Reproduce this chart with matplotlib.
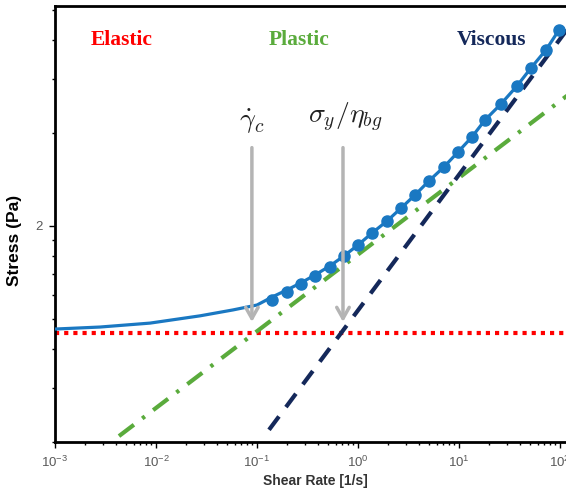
import numpy as np
import matplotlib
matplotlib.use("Agg")
import matplotlib.pyplot as plt
from matplotlib.ticker import FixedLocator, FixedFormatter, LogLocator, NullFormatter, FuncFormatter

# datos leidos de la figura
# curva ajustada (linea azul)
fit_x = [0.001, 0.00279, 0.00873, 0.0273, 0.0578, 0.1, 0.141, 0.198, 0.273, 0.375,
         0.528, 0.726, 1.0, 1.377, 1.94, 2.67, 3.67, 5.04, 7.10, 9.77,
         13.4, 18.1, 26.0, 37.5, 51.6, 72.7, 97.7]
fit_y = [46.4, 47.1, 48.5, 51.2, 53.5, 55.5, 58.9, 62.1, 65.5, 69.4,
         74.3, 80.0, 86.8, 94.9, 103.8, 114.3, 126.0, 139.9, 155.3, 173.5,
         194.0, 220.3, 248.1, 283.9, 324.6, 371.5, 430.8]

# puntos medidos
med_x = [0.141, 0.198, 0.273, 0.375, 0.528, 0.726, 1.0, 1.377, 1.94, 2.67, 3.67,
         5.04, 7.10, 9.77, 13.4, 18.1, 26.0, 37.5, 51.6, 72.7, 97.7]
med_y = [57.7, 61.1, 64.9, 68.9, 73.6, 80.0, 86.8, 94.9, 103.8, 114.3, 126.0,
         139.9, 155.3, 173.5, 194.0, 220.3, 248.1, 283.9, 324.6, 371.5, 430.8]

# asintotas
elastico_x = [0.001, 150]
elastico_y = [45.1, 45.1]
plastico_x = [0.0043, 150]
plastico_y = [20.9, 280.5]
viscoso_x = [0.1315, 150]
viscoso_y = [21.9, 481]

# flechas
flecha_x = [0.089, 0.71]
flecha_y0 = 183
flecha_y1 = 47.9
flecha_txt = [r"$\dot{\gamma}_c$", r"$\sigma_y/\eta_{bg}$"]

regiones = ["Elastic", "Plastic", "Viscous"]
regiones_x = [0.0046, 0.26, 21]
regiones_col = ["#ff0000", "#5aab3c", "#14285a"]

plt.rcParams["font.family"] = ["Liberation Sans", "DejaVu Sans"]

fig = plt.figure(figsize=(5.66, 4.92), dpi=100)
ax = fig.add_axes([55/566, 50/492, 520/566, 436/492])
ax.set_xscale("log")
ax.set_yscale("log")
ax.set_xlim(1e-3, 140.7)
ax.set_ylim(20, 515)

ax.plot(elastico_x, elastico_y, color="#ff0000", lw=3, linestyle=(0, (1, 1.2)), zorder=2)
ax.plot(plastico_x, plastico_y, color="#5aab3c", lw=3, linestyle=(0, (4.5, 2.5, 0.8, 2.5)), zorder=2)
ax.plot(viscoso_x, viscoso_y, color="#14285a", lw=3, linestyle=(0, (4, 2.8)), zorder=2)
ax.plot(fit_x, fit_y, color="#1a78c2", lw=2.3, zorder=3)
ax.plot(med_x, med_y, "o", color="#1a78c2", ms=8, zorder=4)

for i in range(len(flecha_x)):
    ax.annotate("", xy=(flecha_x[i], flecha_y1), xytext=(flecha_x[i], flecha_y0),
                arrowprops=dict(arrowstyle="->,head_length=0.8,head_width=0.45",
                                color="#b4b4b4", lw=2.5), zorder=5)
ax.text(flecha_x[0], 218, flecha_txt[0], ha="center", va="center", fontsize=20,
        math_fontfamily="cm", color="#222222")
ax.text(flecha_x[1] * 1.05, 225, flecha_txt[1], ha="center", va="center", fontsize=20,
        math_fontfamily="cm", color="#222222")

for i in range(3):
    ax.text(regiones_x[i], 400, regiones[i], ha="center", va="center", fontsize=15.5,
            fontweight="bold", family="Liberation Serif", color=regiones_col[i])

ax.yaxis.set_major_locator(FixedLocator([100]))
ax.yaxis.set_major_formatter(FixedFormatter(["2"]))
ax.yaxis.set_minor_locator(LogLocator(base=10, subs=np.arange(2, 10)))
ax.yaxis.set_minor_formatter(NullFormatter())
ax.xaxis.set_major_locator(LogLocator(base=10, numticks=10))
ax.xaxis.set_major_formatter(FuncFormatter(lambda v, p: r"$\mathregular{10^{%d}}$" % round(np.log10(v))))
ax.xaxis.set_minor_locator(LogLocator(base=10, subs=np.arange(2, 10), numticks=20))
ax.xaxis.set_minor_formatter(NullFormatter())

ax.tick_params(which="major", direction="out", length=4, width=1, labelsize=9.5,
               labelcolor="#595959", pad=5)
ax.tick_params(which="minor", direction="out", length=2.5, width=1)
for s in ax.spines.values():
    s.set_linewidth(2)

ax.set_xlabel("Shear Rate [1/s]", fontsize=10, fontweight="bold", color="#333333", labelpad=3)
ax.set_ylabel("Stress (Pa)", fontsize=12.5, fontweight="bold", color="black")
ax.yaxis.set_label_coords(-0.063, 0.463)

plt.savefig("out.png", dpi=100)
